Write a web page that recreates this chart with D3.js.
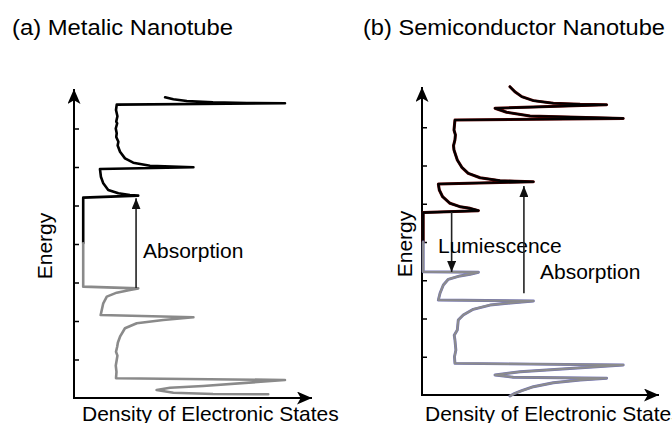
<!DOCTYPE html>
<html>
<head>
<meta charset="utf-8">
<script src="https://cdn.jsdelivr.net/npm/d3@7"></script>
<style>
  html, body { margin: 0; padding: 0; background: #fff; }
  svg { display: block; font-family: "Liberation Sans", Arial, Helvetica, sans-serif; }
</style>
</head>
<body>
<svg id="chart" width="672" height="423"></svg>
<script>
// ---------- data (DOS in arbitrary units 0-100, energy in arbitrary units -10..10) ----------
const panelTitles = ["(a) Metalic Nanotube", "(b) Semiconductor Nanotube"];
const xAxisLabel = "Density of Electronic States";
const yAxisLabel = "Energy";
const energyTicks = [7.5, 5, 2.5, 0, -2.5, -5, -7.5];

// metallic nanotube: conduction band (black) [dos, energy]
const metalConduction = [
  [38.6, 9.53], [42.1, 9.40], [47.8, 9.29], [58.9, 9.20], [73.3, 9.16], [89.4, 9.14],
  [18.1, 9.05], [17.8, 8.70], [18.4, 8.30], [17.9, 7.95], [18.3, 7.84], [17.7, 7.50],
  [18.1, 7.19], [17.9, 6.95], [18.8, 6.64], [18.5, 6.40], [19.5, 5.99], [21.6, 5.56],
  [25.1, 5.28], [32.2, 5.08], [50.6, 4.98],
  [11.0, 4.87], [11.4, 4.37], [12.4, 3.94], [14.5, 3.51], [18.8, 3.29], [23.7, 3.18], [27.2, 3.14],
  [3.9, 3.01], [3.9, 0.05]
];
// metallic nanotube: valence band (gray)
const metalValence = [
  [3.9, 0.05], [3.9, -2.77], [27.2, -2.88], [23.7, -2.99], [18.1, -3.16], [13.9, -3.42],
  [12.4, -3.85], [11.3, -4.61], [50.6, -4.76], [37.8, -4.94], [26.6, -5.15], [21.6, -5.47],
  [19.5, -6.02], [18.6, -6.40], [18.3, -6.67], [17.8, -7.00], [18.4, -7.25], [18.1, -7.53],
  [17.7, -7.90], [18.0, -8.30], [17.8, -8.72], [89.4, -8.83], [54.7, -9.22], [40.7, -9.33],
  [35.0, -9.48], [42.1, -9.66], [58.9, -9.74], [82.3, -9.76]
];

// semiconductor nanotube: conduction band
const semiConduction = [
  [37.1, 10.15], [39.2, 9.82], [42.1, 9.50], [47.0, 9.24], [55.4, 9.07], [66.7, 9.00], [77.9, 8.97],
  [30.8, 8.74], [35.7, 8.48], [45.6, 8.24], [84.9, 8.08],
  [13.9, 7.97], [13.5, 7.32], [14.1, 7.00], [13.9, 6.67], [13.3, 6.30], [13.5, 6.01],
  [14.9, 5.36], [16.8, 4.88], [19.5, 4.49], [24.5, 4.20], [32.9, 4.01], [47.0, 3.94],
  [6.9, 3.79], [7.3, 3.40], [8.7, 2.96], [11.8, 2.53], [16.0, 2.31], [20.3, 2.20], [23.8, 2.05],
  [0.5, 1.92], [0.5, 0.0]
];
// semiconductor nanotube: valence band
const semiValence = [
  [0.5, 0.0], [0.5, -1.94], [23.8, -1.98], [20.3, -2.11], [16.0, -2.22], [11.1, -2.44],
  [9.0, -2.81], [7.6, -3.35], [6.9, -3.79], [47.0, -3.86], [38.5, -3.97], [28.7, -4.12],
  [21.6, -4.40], [17.4, -4.77], [15.3, -5.10], [14.9, -5.75], [13.6, -6.10], [13.9, -6.41],
  [14.3, -7.06], [13.7, -7.50], [13.9, -7.93], [84.9, -8.04], [41.4, -8.48], [30.8, -8.69],
  [38.5, -8.84], [77.9, -8.91], [66.7, -9.02], [55.4, -9.20], [47.0, -9.46], [42.1, -9.72],
  [39.2, -9.89], [37.1, -10.07]
];

// transitions: [dos, fromEnergy, toEnergy]
const metalTransitions = [[26.3, -2.86, 2.97]];
const semiTransitions = [[12.5, 1.96, -1.96], [43.0, -3.35, 3.66]];
const metalTransitionLabels = ["Absorption"];
const semiTransitionLabels = ["Lumiescence", "Absorption"];

// ---------- drawing ----------
const svg = d3.select("#chart");
const defs = svg.append("defs");
function marker(id, w, h) {
  defs.append("marker").attr("id", id)
    .attr("viewBox", `0 0 ${h} ${w}`).attr("refX", h).attr("refY", w / 2)
    .attr("markerUnits", "userSpaceOnUse").attr("markerWidth", h).attr("markerHeight", w)
    .attr("orient", "auto")
    .append("path").attr("d", `M0,0 L${h},${w / 2} L0,${w} L${h * 0.25},${w / 2} Z`).attr("fill", "#000");
}
marker("axisArrow", 13, 15);
defs.append("marker").attr("id", "tArrow")
  .attr("viewBox", "0 0 11 9").attr("refX", 11).attr("refY", 4.5)
  .attr("markerUnits", "userSpaceOnUse").attr("markerWidth", 11).attr("markerHeight", 9)
  .attr("orient", "auto")
  .append("path").attr("d", "M0,0 L11,4.5 L0,9 Z").attr("fill", "#111");

const panels = [
  { x0: 74, x1: 310, yTop: 90, yBot: 398, axTipX: 312, axTipY: 89,
    title: panelTitles[0], titleX: 12, titleLen: 221,
    bands: [
      { data: metalConduction, layers: [{ c: "#000", w: 2.6 }] },
      { data: metalValence, layers: [{ c: "#8a8a8a", w: 2.6 }] }
    ],
    transitions: metalTransitions, tLabels: metalTransitionLabels,
    labelPos: [[143, 258]], energyX: 52, xlabX: 82 },
  { x0: 422, x1: 659, yTop: 89, yBot: 395, axTipX: 659, axTipY: 87,
    title: panelTitles[1], titleX: 363, titleLen: 302,
    bands: [
      { data: semiConduction, layers: [{ c: "#5a0000", w: 3.0 }, { c: "#000", w: 2.1 }] },
      { data: semiValence, layers: [{ c: "#7474b4", w: 2.9 }, { c: "#8c8c8c", w: 2.0 }] }
    ],
    transitions: semiTransitions, tLabels: semiTransitionLabels,
    labelPos: [[438, 253], [540, 279]], energyX: 412, xlabX: 425 }
];

panels.forEach(p => {
  const x = d3.scaleLinear().domain([0, 100]).range([p.x0, p.x1]);
  const y = d3.scaleLinear().domain([-10, 10]).range([p.yBot, p.yTop]);
  const g = svg.append("g");

  // title
  g.append("text").attr("x", p.titleX).attr("y", 35)
    .attr("font-size", 22).attr("textLength", p.titleLen).attr("lengthAdjust", "spacingAndGlyphs")
    .attr("fill", "#000").text(p.title);

  // ticks
  const ax = d3.axisRight(y).tickValues(energyTicks).tickSize(5).tickFormat("");
  const axG = g.append("g").attr("transform", `translate(${p.x0},0)`).call(ax);
  axG.select(".domain").remove();
  axG.selectAll(".tick line").attr("stroke", "#000").attr("stroke-width", 1.5);

  // axes with arrows
  g.append("line").attr("x1", p.x0).attr("y1", p.yBot).attr("x2", p.x0).attr("y2", p.axTipY)
    .attr("stroke", "#000").attr("stroke-width", 2).attr("marker-end", "url(#axisArrow)");
  g.append("line").attr("x1", p.x0 - 1).attr("y1", p.yBot).attr("x2", p.axTipX).attr("y2", p.yBot)
    .attr("stroke", "#000").attr("stroke-width", 2).attr("marker-end", "url(#axisArrow)");

  // DOS curves
  const line = d3.line().x(d => x(d[0])).y(d => y(d[1]));
  p.bands.forEach(b => {
    b.layers.forEach(l => {
      g.append("path").attr("d", line(b.data)).attr("fill", "none")
        .attr("stroke", l.c).attr("stroke-width", l.w)
        .attr("stroke-linejoin", "round").attr("stroke-linecap", "round");
    });
  });

  // transition arrows
  p.transitions.forEach((t, i) => {
    g.append("line").attr("x1", x(t[0])).attr("y1", y(t[1]))
      .attr("x2", x(t[0])).attr("y2", y(t[2]))
      .attr("stroke", "#222").attr("stroke-width", 1.6).attr("marker-end", "url(#tArrow)");
    g.append("text").attr("x", p.labelPos[i][0]).attr("y", p.labelPos[i][1])
      .attr("font-size", 21).attr("fill", "#000").text(p.tLabels[i]);
  });

  // axis labels
  g.append("text").attr("x", p.xlabX).attr("y", 421).attr("font-size", 21).attr("fill", "#000").text(xAxisLabel);
  g.append("text").attr("transform", `translate(${p.energyX},${(p.yTop + p.yBot) / 2 + 2}) rotate(-90)`)
    .attr("text-anchor", "middle").attr("font-size", 21).attr("fill", "#000").text(yAxisLabel);
});
</script>
</body>
</html>
